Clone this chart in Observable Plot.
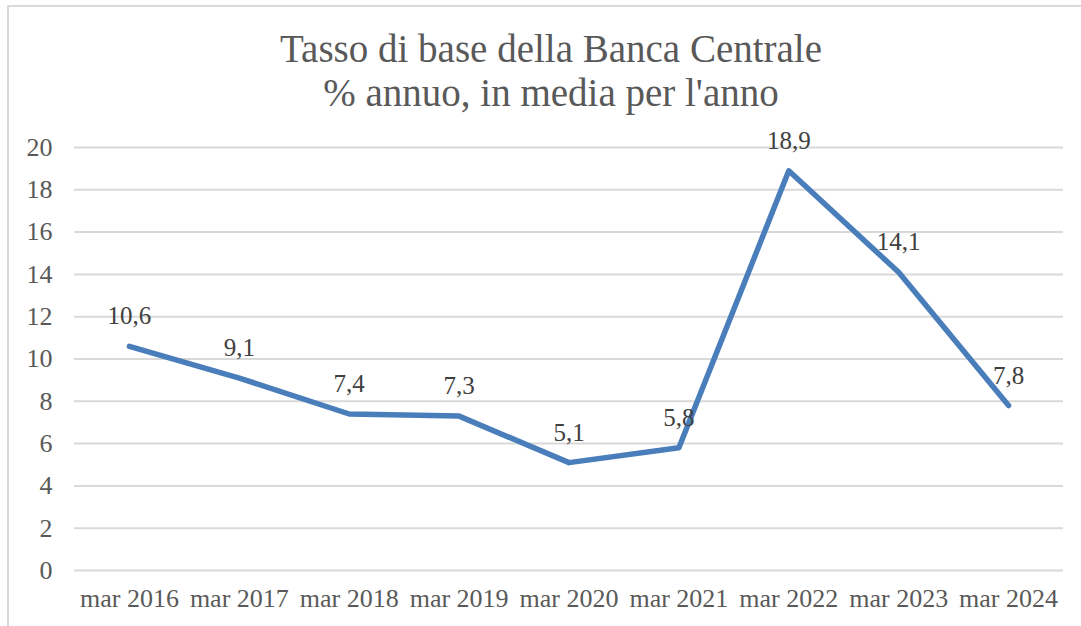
<!DOCTYPE html>
<html>
<head>
<meta charset="utf-8">
<script src="https://cdn.jsdelivr.net/npm/d3@7"></script>
<script src="https://cdn.jsdelivr.net/npm/@observablehq/plot@0.6"></script>
<style>
  html, body { margin: 0; padding: 0; background: #fff; overflow: hidden; }
  #wrap { position: relative; width: 1081px; height: 626px; overflow: hidden; }
  #frame { position: absolute; left: 7px; top: 5px; width: 1200px; height: 800px; border: 2px solid #d9d9d9; box-sizing: border-box; }
  #title { position: absolute; left: 0; width: 1102px; top: 27px; text-align: center;
           font-family: "Liberation Serif", serif; font-size: 39px; line-height: 44px; color: #595959; }
  #chart { position: absolute; left: 0; top: 0; }
</style>
</head>
<body>
<div id="wrap">
  <div id="frame"></div>
  <div id="chart"></div>
  <div id="title">Tasso di base della Banca Centrale<br>% annuo, in media per l'anno</div>
</div>
<script>
const categories = ["mar 2016", "mar 2017", "mar 2018", "mar 2019", "mar 2020", "mar 2021", "mar 2022", "mar 2023", "mar 2024"];
const values = [10.6, 9.1, 7.4, 7.3, 5.1, 5.8, 18.9, 14.1, 7.8];
const yTicks = [0, 2, 4, 6, 8, 10, 12, 14, 16, 18, 20];

const data = categories.map((c, i) => ({ cat: c, v: values[i] }));
const fmt = v => v.toLocaleString("it-IT", { minimumFractionDigits: 1, maximumFractionDigits: 1 });

const chart = Plot.plot({
  width: 1081,
  height: 626,
  marginLeft: 74,
  marginRight: 18,
  marginTop: 147,
  marginBottom: 56,
  style: { fontFamily: "'Liberation Serif', serif", background: "transparent" },
  x: { type: "point", domain: categories, padding: 0.5, round: false, label: null },
  y: { domain: [0, 20], label: null },
  marks: [
    Plot.ruleY(yTicks, { stroke: "#d9d9d9", strokeWidth: 2 }),
    Plot.axisY({ ticks: yTicks, tickSize: 0, tickPadding: 22, fontSize: 26, fill: "#595959", label: null, tickFormat: d => String(d) }),
    Plot.axisX({ tickSize: 0, tickPadding: 18, fontSize: 26, fill: "#595959", label: null }),
    Plot.line(data, { x: "cat", y: "v", stroke: "#4a7ebb", strokeWidth: 5.5, strokeLinecap: "round", strokeLinejoin: "round" }),
    Plot.text(data, { x: "cat", y: "v", text: d => fmt(d.v), dy: -30, fontSize: 25, fill: "#404040" })
  ]
});
document.getElementById("chart").appendChild(chart);
</script>
</body>
</html>
